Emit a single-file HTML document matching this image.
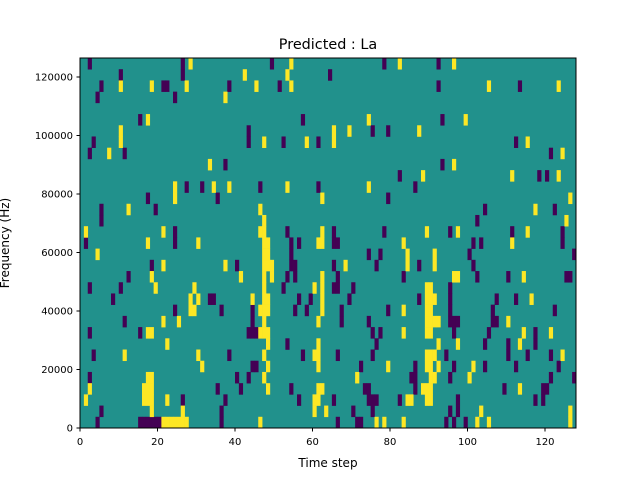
<!DOCTYPE html>
<html><head><meta charset="utf-8"><style>
html,body{margin:0;padding:0;background:#fff;}
svg text{font-family:"DejaVu Sans","Liberation Sans",sans-serif;fill:#000;}
</style></head><body>
<svg id="chart" width="640" height="480" viewBox="0 0 640 480" xmlns="http://www.w3.org/2000/svg">
<rect width="640" height="480" fill="#fff"/>
<text x="328" y="49" font-size="14.4" text-anchor="middle">Predicted : La</text>
<g id="cells"></g>
<rect x="80" y="58" width="496" height="370" fill="none" stroke="#000" stroke-width="1"/>
<g id="xt"></g>
<g id="yt"></g>
<text x="328" y="467" font-size="12" text-anchor="middle">Time step</text>
<text transform="translate(9,243) rotate(-90)" font-size="12" text-anchor="middle">Frequency (Hz)</text>
</svg>
<script>
const nSteps = 128;
const nBins = 33;
const yMax = 126500;
const xTicks = [0,20,40,60,80,100,120];
const yTicks = [0,20000,40000,60000,80000,100000,120000];
const purpleRows = [
[0,[4,15,16,17,18,19,20,36,66,71,72,94,96,99]],
[1,[5,36,70,75,95,97]],
[2,[26,37,56,65,74,75,76,82,97,117,119]],
[3,[35,41,54,73,74,86,109,119,120]],
[4,[2,40,43,85,86,95,121,127]],
[5,[44,45,72,86,96,104,112,123]],
[6,[3,38,57,66,75,94,110,115,121]],
[7,[53,76,104,110,117]],
[8,[2,15,43,44,45,75,77,96,105,117]],
[9,[11,44,67,74,95,96,97,106,107]],
[10,[24,36,44,55,58,67,79,95,106,122]],
[11,[8,33,34,56,59,69,87,95,107,112]],
[12,[2,10,52,65,66,70,95]],
[13,[12,53,55,66,83,102,110,125,126]],
[14,[18,40,54,55,65,76,87,101]],
[15,[54,74,77,100,127]],
[16,[1,24,54,56,65,66,101,103,124]],
[17,[24,53,65,78,95,111,124]],
[18,[5,102]],
[19,[5,19,104,122]],
[20,[17,35,79]],
[21,[27,31,46,61,86]],
[22,[82,118,120]],
[23,[37,93]],
[24,[2,11,121]],
[25,[3,43,52,61,112]],
[26,[43,75,79]],
[27,[15,57,93]],
[29,[4,24]],
[30,[5,21,22,38,51,92,113]],
[31,[10,26,64]],
[32,[2,26,49,78,92]]
];
const yellowRows = [
[0,[21,22,23,24,25,26,27,46,76,78,83,102,105,126]],
[1,[18,26,60,63,103,126]],
[2,[1,16,17,18,22,60,61,84,85,89,90]],
[3,[2,16,17,18,48,61,62,88,89,90,113]],
[4,[17,18,47,71,90,91,100]],
[5,[31,48,61,79,89,90,92,101]],
[6,[11,30,47,60,61,89,90,91,124]],
[7,[22,48,61,92,97,113]],
[8,[17,18,46,47,48,83,89,90,114,121]],
[9,[21,25,47,61,89,90,91,92,110]],
[10,[28,29,46,47,48,62,83,89,90]],
[11,[28,30,44,47,48,62,89,90,91,116]],
[12,[19,29,47,60,62,89,90]],
[13,[18,41,47,49,62,96,97,114]],
[14,[21,37,47,48,49,68,84,91]],
[15,[4,47,48,84,91]],
[16,[17,30,47,48,61,62,83,111]],
[17,[1,21,46,47,62,89,97,115]],
[18,[47,125]],
[19,[12,46,117]],
[20,[24,62,126]],
[21,[24,34,38,53,74]],
[22,[88,111,123]],
[23,[33,96]],
[24,[7,124]],
[25,[10,47,58,65,115]],
[26,[10,65,69,87]],
[27,[17,74,99]],
[29,[37]],
[30,[10,18,27,45,54,105,123]],
[31,[42,53]],
[32,[28,54,82,96]]
];
const NS="http://www.w3.org/2000/svg";
const L=80,R=576,T=58,B=428;
const binHz = yMax/nBins;
function xPos(t){return L+(R-L)*t/nSteps;}
function yPos(v){return B-(B-T)*v/yMax;}
const cells=document.getElementById('cells');
const bg=document.createElementNS(NS,'rect');
bg.setAttribute('x',L);bg.setAttribute('y',T);bg.setAttribute('width',R-L);bg.setAttribute('height',B-T);bg.setAttribute('fill','#21918c');


cells.appendChild(bg);
function drawRows(rows,color,name){
  rows.forEach(([r,ts])=>{
    ts.forEach(t=>{
      const e=document.createElementNS(NS,'rect');
      const x0=xPos(t),x1=xPos(t+1),y0=yPos((r+1)*binHz),y1=yPos(r*binHz);
      e.setAttribute('x',x0);e.setAttribute('y',Math.max(T,y0));
      e.setAttribute('width',x1-x0+0.3);e.setAttribute('height',y1-Math.max(T,y0)+0.3);
      e.setAttribute('fill',color);
      
      
      cells.appendChild(e);
    });
  });
}
drawRows(purpleRows,'#440154','low-cell');
drawRows(yellowRows,'#fde725','high-cell');
const xt=document.getElementById('xt');
xTicks.forEach(v=>{
  const x=xPos(v);
  const l=document.createElementNS(NS,'line');
  l.setAttribute('x1',x);l.setAttribute('x2',x);l.setAttribute('y1',B);l.setAttribute('y2',B+3.5);l.setAttribute('stroke','#000');
  
  
  xt.appendChild(l);
  const s=document.createElementNS(NS,'text');
  s.setAttribute('x',x);s.setAttribute('y',B+17);s.setAttribute('font-size','10');s.setAttribute('text-anchor','middle');
  s.textContent=v;
  
  
  xt.appendChild(s);
});
const yt=document.getElementById('yt');
yTicks.forEach(v=>{
  const y=yPos(v);
  const l=document.createElementNS(NS,'line');
  l.setAttribute('x1',L-3.5);l.setAttribute('x2',L);l.setAttribute('y1',y);l.setAttribute('y2',y);l.setAttribute('stroke','#000');
  
  
  yt.appendChild(l);
  const s=document.createElementNS(NS,'text');
  s.setAttribute('x',L-7);s.setAttribute('y',y+3.5);s.setAttribute('font-size','10');s.setAttribute('text-anchor','end');
  s.textContent=v;
  
  
  yt.appendChild(s);
});
</script>
</body></html>
